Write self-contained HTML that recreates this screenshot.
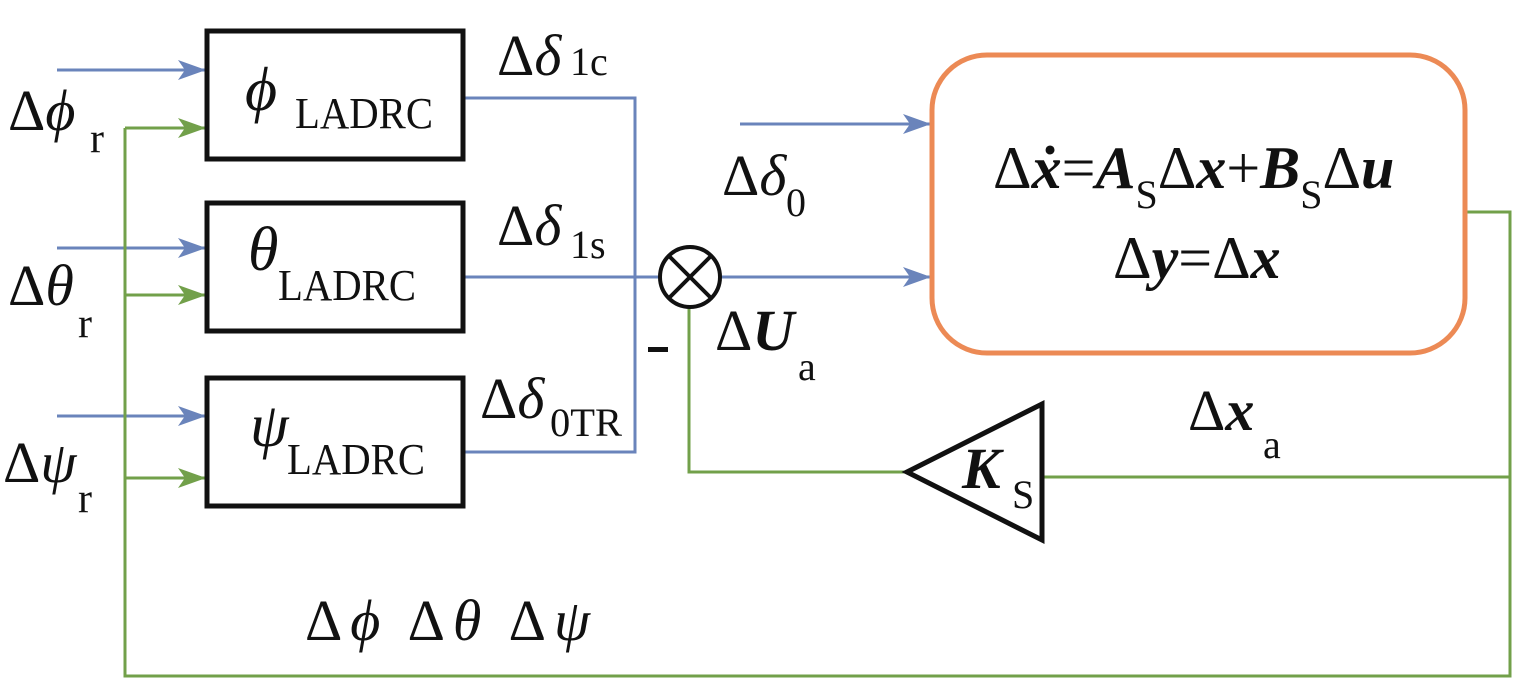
<!DOCTYPE html>
<html><head><meta charset="utf-8"><style>
html,body{margin:0;padding:0;background:#fff;}
svg{display:block;}
text{font-family:"Liberation Serif",serif;fill:#111;}
</style></head><body>
<svg width="1515" height="680" viewBox="0 0 1515 680" xmlns="http://www.w3.org/2000/svg">
<defs>
<marker id="ab" markerWidth="28" markerHeight="20" refX="27" refY="10" orient="auto" markerUnits="userSpaceOnUse"><path d="M0,0 L28,10 L0,20 L7,10 Z" fill="#6a84bb"/></marker>
<marker id="ag" markerWidth="28" markerHeight="20" refX="27" refY="10" orient="auto" markerUnits="userSpaceOnUse"><path d="M0,0 L28,10 L0,20 L7,10 Z" fill="#72a04a"/></marker>
</defs>
<g stroke="#6a84bb" stroke-width="3" fill="none">
<line x1="57" y1="70" x2="205" y2="70" marker-end="url(#ab)"/>
<line x1="57" y1="248" x2="205" y2="248" marker-end="url(#ab)"/>
<line x1="57" y1="416" x2="205" y2="416" marker-end="url(#ab)"/>
<polyline points="463,98 635,98 635,452 463,452"/>
<line x1="463" y1="277" x2="660" y2="277"/>
<line x1="720" y1="277" x2="930" y2="277" marker-end="url(#ab)"/>
<line x1="740" y1="124" x2="930" y2="124" marker-end="url(#ab)"/>
</g>
<g stroke="#72a04a" stroke-width="3" fill="none">
<polyline points="125,128 125,676 1510,676 1510,212 1467,212"/>
<line x1="125" y1="128" x2="205" y2="128" marker-end="url(#ag)"/>
<line x1="125" y1="295" x2="205" y2="295" marker-end="url(#ag)"/>
<line x1="125" y1="478" x2="205" y2="478" marker-end="url(#ag)"/>
<polyline points="689,307 689,472 907,472"/>
<line x1="1042" y1="477" x2="1510" y2="477"/>
</g>
<g stroke="#111" stroke-width="5" fill="none">
<rect x="207" y="31" width="256" height="128"/>
<rect x="207" y="203" width="256" height="128"/>
<rect x="207" y="378" width="256" height="128"/>
<polygon points="907,472 1042,404 1042,540"/>
</g>
<g stroke="#111" stroke-width="4" fill="#fff">
<ellipse cx="690" cy="277" rx="30" ry="30"/>
<line x1="669" y1="256" x2="711" y2="298"/>
<line x1="711" y1="256" x2="669" y2="298"/>
</g>
<rect x="932" y="55" width="533" height="298" rx="55" fill="none" stroke="#ec8a55" stroke-width="5"/>
<rect x="648" y="347" width="20" height="5" fill="#111"/>
<g font-size="58">
<text x="8" y="130">Δ<tspan font-style="italic">ϕ</tspan></text>
<text x="90" y="152" font-size="42">r</text>
<text x="8" y="305">Δ<tspan font-style="italic">θ</tspan></text>
<text x="78" y="337" font-size="42">r</text>
<text x="3" y="482">Δ<tspan font-style="italic">ψ</tspan></text>
<text x="78" y="512" font-size="42">r</text>
<text x="245" y="110" font-style="italic" font-size="62">ϕ</text>
<text x="295" y="128" font-size="44" textLength="138" lengthAdjust="spacingAndGlyphs">LADRC</text>
<text x="248" y="270" font-style="italic" font-size="62">θ</text>
<text x="278" y="300" font-size="44" textLength="138" lengthAdjust="spacingAndGlyphs">LADRC</text>
<text x="250" y="446" font-style="italic" font-size="62">ψ</text>
<text x="287" y="474" font-size="44" textLength="138" lengthAdjust="spacingAndGlyphs">LADRC</text>
<text x="497" y="75">Δ<tspan font-style="italic">δ</tspan></text>
<text x="570" y="75" font-size="40">1c</text>
<text x="497" y="245">Δ<tspan font-style="italic">δ</tspan></text>
<text x="570" y="258" font-size="40">1s</text>
<text x="480" y="418">Δ<tspan font-style="italic">δ</tspan></text>
<text x="550" y="436" font-size="40" textLength="72" lengthAdjust="spacingAndGlyphs">0TR</text>
<text x="722" y="195">Δ<tspan font-style="italic">δ</tspan></text>
<text x="786" y="216" font-size="40">0</text>
<text x="715" y="350">Δ<tspan font-style="italic" font-weight="bold">U</tspan></text>
<text x="798" y="380" font-size="40">a</text>
<text x="1188" y="430">Δ<tspan font-style="italic" font-weight="bold">x</tspan></text>
<text x="1263" y="458" font-size="40">a</text>
<text x="962" y="488" font-style="italic" font-weight="bold">K</text>
<text x="1012" y="508" font-size="40">S</text>
<text x="993" y="188" font-size="60"><tspan>Δ</tspan><tspan font-style="italic" font-weight="bold">ẋ</tspan>=<tspan font-style="italic" font-weight="bold">A</tspan><tspan font-size="40" dy="20">S</tspan><tspan dy="-20">Δ</tspan><tspan font-style="italic" font-weight="bold">x</tspan>+<tspan font-style="italic" font-weight="bold">B</tspan><tspan font-size="40" dy="20">S</tspan><tspan dy="-20">Δ</tspan><tspan font-style="italic" font-weight="bold">u</tspan></text>
<text x="1113" y="278" font-size="60">Δ<tspan font-style="italic" font-weight="bold">y</tspan>=Δ<tspan font-style="italic" font-weight="bold">x</tspan></text>
<text x="305" y="640" textLength="285" lengthAdjust="spacing">Δ<tspan font-style="italic">ϕ</tspan>  Δ<tspan font-style="italic">θ</tspan>  Δ<tspan font-style="italic">ψ</tspan></text>
</g>
</svg>
</body></html>
